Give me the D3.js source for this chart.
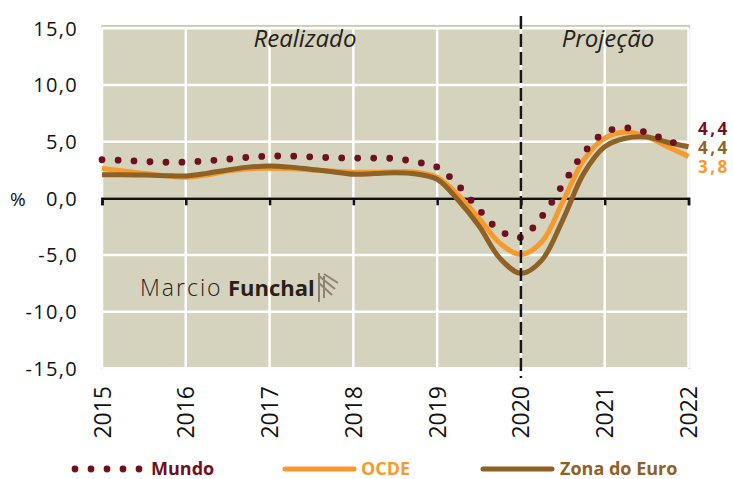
<!DOCTYPE html>
<html>
<head>
<meta charset="utf-8">
<script src="https://cdn.jsdelivr.net/npm/d3@7"></script>
<style>
  html, body { margin: 0; padding: 0; background: #fff; }
  text { font-family: 'Open Sans', sans-serif; }
</style>
</head>
<body>
<div class="chart-container"></div>
<script>
const width = 733;
const height = 479;

// quarterly positions, 2015 -> 2022
const quarters = d3.range(0, 29).map((i) => 2015 + i * 0.25);
const years = [2015, 2016, 2017, 2018, 2019, 2020, 2021, 2022];
const yTicks = [15, 10, 5, 0, -5, -10, -15];

const mundo = [3.4, 3.35, 3.25, 3.18, 3.2, 3.3, 3.45, 3.62, 3.72, 3.72, 3.65, 3.58, 3.55, 3.55, 3.5, 3.2,
  2.75, 1.15, -1.0, -2.85, -3.45, -1.6, 1.2, 4.0, 5.8, 6.22, 5.8, 5.1, 4.45];
const ocde = [2.65, 2.4, 2.2, 2.0, 1.85, 2.05, 2.4, 2.6, 2.65, 2.6, 2.5, 2.4, 2.3, 2.3, 2.35, 2.3,
  1.85, 0.3, -1.77, -3.97, -4.95, -3.83, -0.3, 3.38, 5.3, 5.85, 5.45, 4.55, 3.7];
const euro = [2.08, 2.07, 2.05, 2.0, 1.97, 2.2, 2.5, 2.75, 2.85, 2.75, 2.55, 2.35, 2.12, 2.18, 2.26, 2.15,
  1.68, -0.15, -2.45, -5.3, -6.62, -5.45, -1.9, 2.2, 4.55, 5.3, 5.4, 4.95, 4.55];

const seriesNames = ['Mundo', 'OCDE', 'Zona do Euro'];
const seriesColors = ['#6e1020', '#f79a2e', '#8e6124'];
// end labels, top to bottom: Mundo, Zona do Euro, OCDE
const endValues = [4.4, 4.4, 3.8];
const endColors = [seriesColors[0], seriesColors[2], seriesColors[1]];

const ptBR = d3.formatLocale({ decimal: ',', thousands: '.', grouping: [3], currency: ['R$', ''], minus: '-' });
const fmt = ptBR.format('.1f');

const svg = d3.select('.chart-container').append('svg')
  .attr('xmlns', 'http://www.w3.org/2000/svg')
  .attr('width', width)
  .attr('height', height);

const scaleX = d3.scaleLinear().domain([2015, 2022]).range([102, 688.5]);
const scaleY = d3.scaleLinear().domain([-15, 15]).range([368.3, 28.3]);

// plot background + frame
svg.append('rect')
  .attr('x', scaleX(2015)).attr('y', 25.5)
  .attr('width', 689.5 - scaleX(2015)).attr('height', 368.5 - 25.5)
  .attr('fill', '#d5d2bd').attr('stroke', '#cdcabb').attr('stroke-width', 1.2);

// grid
svg.append('g').selectAll('line').data(yTicks).join('line')
  .attr('x1', scaleX(2015)).attr('x2', scaleX(2022))
  .attr('y1', (d) => scaleY(d)).attr('y2', (d) => scaleY(d))
  .attr('stroke', '#fff').attr('stroke-width', 2.5);
svg.append('g').selectAll('line').data(years).join('line')
  .attr('x1', (d) => scaleX(d)).attr('x2', (d) => scaleX(d))
  .attr('y1', scaleY(15)).attr('y2', scaleY(-15))
  .attr('stroke', '#fff').attr('stroke-width', 2.5);

// y labels
svg.append('g').selectAll('text').data(yTicks).join('text')
  .attr('x', 78).attr('y', (d) => scaleY(d) + 7.5)
  .attr('text-anchor', 'end')
  .attr('font-size', 20).attr('letter-spacing', 1.3).attr('fill', '#111')
  .text((d) => fmt(d));
svg.append('text').attr('x', 10).attr('y', scaleY(0) + 7.5)
  .attr('font-size', 19).attr('fill', '#111').text('%');

// zero axis with ticks
const axis = svg.append('g').attr('transform', 'translate(0,' + scaleY(0) + ')')
  .call(d3.axisBottom(scaleX).tickValues(years).tickSize(7).tickFormat(''));
axis.select('.domain').attr('stroke', '#111').attr('stroke-width', 2.5);
axis.selectAll('.tick line').attr('stroke', '#111').attr('stroke-width', 2.5);

// x labels (rotated)
svg.append('g').selectAll('text').data(years).join('text')
  .attr('transform', (d) => 'translate(' + (scaleX(d) + 8.5) + ',386) rotate(-90)')
  .attr('text-anchor', 'end')
  .attr('font-size', 23).attr('fill', '#111')
  .text((d) => d);

// section titles
svg.append('text').attr('x', 305).attr('y', 47).attr('text-anchor', 'middle')
  .attr('font-size', 24).attr('font-style', 'italic').attr('fill', '#222').text('Realizado');
svg.append('text').attr('x', 608).attr('y', 47).attr('text-anchor', 'middle')
  .attr('font-size', 24).attr('font-style', 'italic').attr('fill', '#222').text('Projeção');

// watermark
const logo = svg.append('g');
logo.append('text').attr('x', 140).attr('y', 296).attr('font-size', 23).attr('font-weight', 300)
  .attr('letter-spacing', 2).attr('fill', '#2a1f1a').text('Marcio');
logo.append('text').attr('x', 228).attr('y', 296).attr('font-size', 22).attr('font-weight', 700)
  .attr('fill', '#2a1f1a').text('Funchal');
logo.append('path')
  .attr('d', 'M319,273 L319,302 M324,276 L324,298 M319,276 L335,289 M324,274 L338,283 M319,283 L332,295')
  .attr('stroke', '#8d8274').attr('stroke-width', 2).attr('fill', 'none');

// lines
const line = d3.line()
  .x((d, i) => scaleX(quarters[i]))
  .y((d) => scaleY(d))
  .curve(d3.curveCatmullRom);

svg.append('path').attr('d', line(ocde)).attr('fill', 'none')
  .attr('stroke', seriesColors[1]).attr('stroke-width', 5);
svg.append('path').attr('d', line(euro)).attr('fill', 'none')
  .attr('stroke', seriesColors[2]).attr('stroke-width', 5);
svg.append('path').attr('d', line(mundo)).attr('fill', 'none')
  .attr('stroke', seriesColors[0]).attr('stroke-width', 6.8)
  .attr('stroke-linecap', 'round').attr('stroke-dasharray', '0,16');

// divider realizado / projecao
svg.append('line')
  .attr('x1', scaleX(2020)).attr('x2', scaleX(2020))
  .attr('y1', 16).attr('y2', 378)
  .attr('stroke', '#1a1414').attr('stroke-width', 2.5).attr('stroke-dasharray', '13,5');

// end labels
const endOffsets = [-19, 0, 18.5];
svg.append('g').selectAll('text').data(endValues).join('text')
  .attr('x', 698).attr('y', (d, i) => scaleY(4.4) + endOffsets[i] + 6)
  .attr('font-size', 17).attr('font-weight', 700).attr('letter-spacing', 2.5)
  .attr('fill', (d, i) => endColors[i])
  .text((d) => fmt(d));

// legend
const legendX = [73, 285, 483];
const legend = svg.append('g');
legend.append('path')
  .attr('d', 'M75,469 L140,469')
  .attr('stroke', seriesColors[0]).attr('stroke-width', 6.8)
  .attr('stroke-linecap', 'round').attr('stroke-dasharray', '0,16');
[1, 2].forEach((i) => {
  legend.append('line')
    .attr('x1', legendX[i]).attr('x2', legendX[i] + 69)
    .attr('y1', 469).attr('y2', 469)
    .attr('stroke', seriesColors[i]).attr('stroke-width', 5).attr('stroke-linecap', 'round');
});
legend.selectAll('text').data(seriesNames).join('text')
  .attr('x', (d, i) => [151, 361, 560][i]).attr('y', 475)
  .attr('font-size', 18).attr('font-weight', 700)
  .attr('fill', (d, i) => seriesColors[i])
  .text((d) => d);
</script>
</body>
</html>
